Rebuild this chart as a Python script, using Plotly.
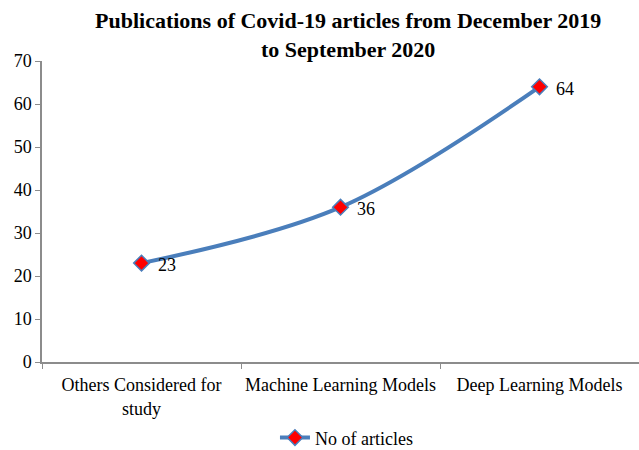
import plotly.graph_objects as go

categories = ["Others Considered for<br>study", "Machine Learning Models", "Deep Learning Models"]
articles = [23, 36, 64]
y_ticks = [0, 10, 20, 30, 40, 50, 60, 70]

serif = "Liberation Serif, Times New Roman, serif"

fig = go.Figure()
fig.add_trace(go.Scatter(
    x=categories,
    y=articles,
    mode="lines+markers",
    name="No of articles",
    line=dict(color="#4A7EBB", width=4, shape="spline", smoothing=1),
    marker=dict(symbol="diamond", color="#FF0000", size=12,
                line=dict(color="#4A7EBB", width=1.5)),
    cliponaxis=False,
))

# value labels to the right of each point
for cat, val in zip(categories, articles):
    fig.add_annotation(x=cat, y=val, text=str(val), showarrow=False,
                       xanchor="left", yanchor="middle", xshift=14, yshift=-2,
                       font=dict(family=serif, size=18, color="#000000"))

# two-line bold title above the plot area
fig.add_annotation(
    text="Publications of Covid-19 articles from December 2019<br>to September 2020",
    xref="paper", yref="paper", x=0.512, y=1.085, xanchor="center", yanchor="middle",
    showarrow=False,
    font=dict(family=serif, size=22, color="#000000", weight="bold"),
)

fig.update_layout(
    width=639, height=450,
    paper_bgcolor="white", plot_bgcolor="white",
    margin=dict(l=42, r=0, t=61, b=88, autoexpand=False),
    font=dict(family=serif, size=18, color="#000000"),
    showlegend=True,
    legend=dict(orientation="h", x=0.51, xanchor="center",
                yref="container", y=0.027, yanchor="middle",
                font=dict(family=serif, size=18, color="#000000")),
    xaxis=dict(
        range=[-0.5, 2.5], showgrid=False, showline=True, linecolor="#8C8C8C", linewidth=1.5,
        ticks="outside", tickson="boundaries", ticklen=5, tickcolor="#8C8C8C",
        tickfont=dict(family=serif, size=18), tickangle=0, automargin=False,
        ticklabelstandoff=6,
    ),
    yaxis=dict(
        range=[0, 70], tickvals=y_ticks, showgrid=False, showline=True, linecolor="#8C8C8C",
        linewidth=1.5, ticks="outside", ticklen=5, tickcolor="#8C8C8C",
        tickfont=dict(family=serif, size=18), zeroline=False, automargin=False,
    ),
)

fig.write_html("out.html")
